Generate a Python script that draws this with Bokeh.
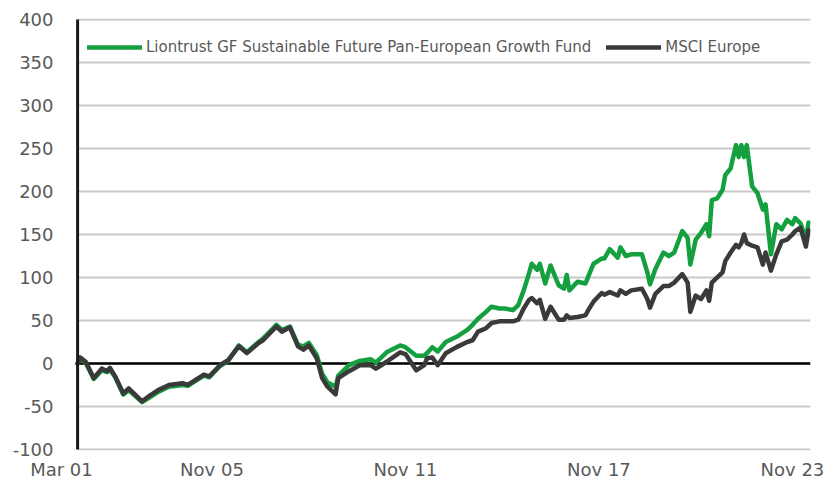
from bokeh.plotting import figure
from bokeh.models import Range1d, FixedTicker, Legend, LegendItem
from bokeh.embed import file_html
from bokeh.resources import INLINE

# ---- data ----
dates = ["2001-03", "2001-04", "2001-06", "2001-09", "2001-12", "2002-02", "2002-03", "2002-05",
         "2002-08", "2002-10", "2003-03", "2003-06", "2003-09", "2004-01", "2004-06", "2004-08",
         "2005-02", "2005-04", "2005-08", "2005-11", "2006-03", "2006-06", "2006-10", "2006-12",
         "2007-05", "2007-07", "2007-10", "2008-01", "2008-03", "2008-05", "2008-08", "2008-10",
         "2008-12", "2009-03", "2009-04", "2009-08", "2009-12", "2010-04", "2010-06", "2010-10",
         "2011-03", "2011-05", "2011-09", "2011-12", "2012-01", "2012-03", "2012-05", "2012-08",
         "2012-12", "2013-04", "2013-06", "2013-08", "2013-11", "2014-01", "2014-04", "2014-06",
         "2014-09", "2014-11", "2015-01", "2015-03", "2015-04", "2015-06", "2015-07", "2015-09",
         "2015-11", "2016-02", "2016-04", "2016-05", "2016-06", "2016-09", "2016-12", "2017-01",
         "2017-03", "2017-06", "2017-07", "2017-09", "2017-12", "2018-01", "2018-03", "2018-05",
         "2018-09", "2018-11", "2018-12", "2019-02", "2019-05", "2019-07", "2019-09", "2019-12",
         "2020-02", "2020-03", "2020-05", "2020-07", "2020-09", "2020-10", "2020-11", "2021-01",
         "2021-03", "2021-04", "2021-06", "2021-08", "2021-09", "2021-10", "2021-11", "2021-12",
         "2022-02", "2022-04", "2022-06", "2022-07", "2022-09", "2022-11", "2023-01", "2023-03",
         "2023-05", "2023-06", "2023-08", "2023-10", "2023-11"]

fund = [0, 5, 1, -18, -8, -10, -7, -16,
        -36, -31, -45, -39, -33, -27, -25, -26,
        -14, -16, -3, 3, 21, 13, 24, 29,
        45, 39, 43, 22, 20, 24, 10, -12,
        -22, -27, -14, -2, 3, 5, 1, 13,
        21, 19, 9, 9, 12, 19, 14, 25,
        31, 39, 45, 52, 60, 66, 64, 64,
        62, 68, 85, 105, 116, 109, 116, 93,
        114, 91, 87, 103, 85, 95, 93, 101,
        116, 122, 122, 133, 123, 135, 125, 127,
        127, 106, 92, 110, 129, 125, 129, 154,
        146, 115, 144, 152, 162, 148, 190, 192,
        202, 219, 227, 254, 240, 254, 240, 254,
        206, 198, 179, 185, 127, 162, 156, 167,
        162, 169, 163, 144, 164]

msci = [0, 7, 2, -17, -6, -9, -5, -15,
        -35, -29, -44, -37, -31, -25, -23, -25,
        -13, -15, -2, 4, 20, 12, 23, 27,
        43, 37, 42, 20, 16, 21, 6, -17,
        -27, -36, -17, -9, -2, -2, -6, 2,
        13, 11, -8, -2, 6, 7, -2, 12,
        19, 25, 27, 37, 41, 47, 49, 49,
        49, 51, 64, 74, 76, 70, 74, 52,
        66, 51, 51, 56, 53, 54, 56, 62,
        72, 82, 80, 83, 79, 85, 81, 85,
        87, 75, 65, 81, 90, 90, 94, 104,
        94, 60, 79, 75, 85, 73, 94, 100,
        106, 119, 129, 138, 135, 140, 150, 140,
        137, 135, 115, 129, 108, 127, 142, 144,
        150, 154, 158, 136, 155]

x_tick_dates = ["2001-03", "2005-11", "2011-11", "2017-11", "2023-11"]
x_tick_labels = ["Mar 01", "Nov 05", "Nov 11", "Nov 17", "Nov 23"]
y_ticks = [-100, -50, 0, 50, 100, 150, 200, 250, 300, 350, 400]
y_tick_labels = ["-100", "-50", "0", "50", "100", "150", "200", "250", "300", "350", "400"]

series_names = ["Liontrust GF Sustainable Future Pan-European Growth Fund", "MSCI Europe"]


def to_t(s):
    y, m = s.split("-")
    return int(y) + (int(m) - 1) / 12.0


t = [to_t(d) for d in dates]
t0, t1 = t[0], t[-1]
x_start, x_end = t0 - 0.53, t1 + 0.06

# style
GREEN = "#14a03e"
DARK = "#3a3a3a"
GRID = "#c9c9c9"
TXT = "#595959"
FONT = "DejaVu Sans"
LABEL_SHIFT = 0.5  # tick labels sit slightly left of their month

p = figure(frame_width=750, frame_height=432, output_backend="svg", toolbar_location=None,
           x_range=Range1d(x_start, x_end), y_range=Range1d(-101.2, 401.2),
           min_border_left=60, min_border_right=28, min_border_top=18, min_border_bottom=29,
           min_border=0)
p.title.visible = False
p.outline_line_color = None
p.xgrid.visible = False
p.ygrid.visible = False
p.background_fill_color = "white"
p.border_fill_color = "white"

# gridlines (from axis to end)
p.segment(x0=[t0] * len(y_ticks), x1=[x_end] * len(y_ticks), y0=y_ticks, y1=y_ticks,
          line_color=GRID, line_width=2)
p.segment(x0=[t0], x1=[x_end], y0=[0], y1=[0], line_color="black", line_width=2.5)

r_fund = p.line(t, fund, line_color=GREEN, line_width=4.5, line_join="round", line_cap="round")
r_msci = p.line(t, msci, line_color=DARK, line_width=4.5, line_join="round", line_cap="round")

# vertical axis line at start
p.segment(x0=[t0], x1=[t0], y0=[y_ticks[0]], y1=[y_ticks[-1]], line_color="#1a1a1a", line_width=3)

# axes
tick_pos = [round(to_t(d) - LABEL_SHIFT, 6) for d in x_tick_dates]
p.xaxis.ticker = FixedTicker(ticks=tick_pos)
p.xaxis.major_label_overrides = {tp: lab for tp, lab in zip(tick_pos, x_tick_labels)}
p.yaxis.ticker = FixedTicker(ticks=y_ticks)
p.yaxis.major_label_overrides = {v: lab for v, lab in zip(y_ticks, y_tick_labels)}
for ax in (p.xaxis, p.yaxis):
    ax.axis_line_color = None
    ax.major_tick_line_color = None
    ax.minor_tick_line_color = None
    ax.major_tick_out = 0
    ax.major_tick_in = 0
    ax.minor_tick_out = 0
    ax.minor_tick_in = 0
    ax.major_label_text_font = FONT
    ax.major_label_text_font_size = "18px"
    ax.major_label_text_color = TXT
p.xaxis.major_label_standoff = 8
p.yaxis.major_label_standoff = 7

legend = Legend(items=[LegendItem(label=series_names[0], renderers=[r_fund]),
                       LegendItem(label=series_names[1], renderers=[r_msci])],
                location=(27, 393), orientation="horizontal",
                padding=0, margin=0, spacing=15, glyph_width=55, glyph_height=20,
                label_standoff=4, label_text_font=FONT, label_text_font_size="15px",
                label_text_color=TXT, border_line_color=None, background_fill_alpha=0)
p.add_layout(legend, "center")

open("out.html", "w").write(file_html(p, INLINE))
